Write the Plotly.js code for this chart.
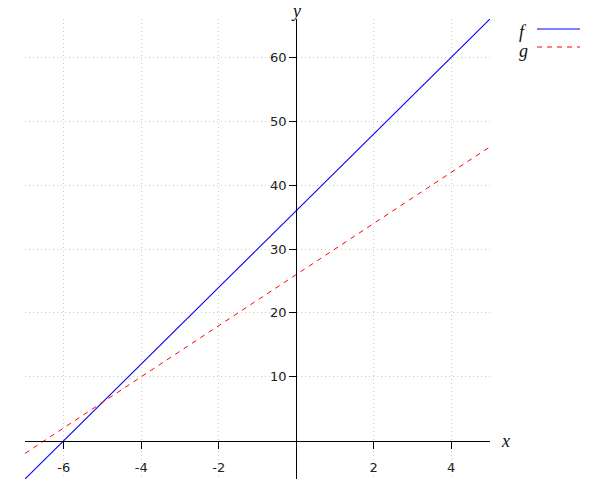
<!DOCTYPE html>
<html>
<head>
<meta charset="utf-8">
<script src="https://cdn.plot.ly/plotly-3.0.1.min.js"></script>
<style>html,body{margin:0;padding:0;background:#fff;}#chart{width:600px;height:500px;}</style>
</head>
<body>
<div id="chart"></div>
<script>
// Data
const xValues = [-7, 5];
const fValues = [-6, 66];
const gValues = [-2, 46];
const xTickVals = [-6, -4, -2, 2, 4];
const xTickText = ['-6', '-4', '-2', '2', '4'];
const yTickVals = [10, 20, 30, 40, 50, 60];
const yTickText = ['10', '20', '30', '40', '50', '60'];
const seriesNames = ['f', 'g'];
const seriesColors = ['#0000ff', '#ff0000'];

const xRange = [-7, 5];
const yRange = [-6, 66];

const traces = [
  {x: xValues, y: fValues, type: 'scatter', mode: 'lines', name: seriesNames[0],
   line: {color: seriesColors[0], width: 1.1}},
  {x: xValues, y: gValues, type: 'scatter', mode: 'lines', name: seriesNames[1],
   line: {color: seriesColors[1], width: 1, dash: '5px,5px'}}
];

const tickFont = {family: 'DejaVu Sans, sans-serif', size: 13, color: '#222'};
const labelFont = {family: 'Liberation Serif, serif', size: 18, color: '#111'};

const xZeroFrac = (0 - yRange[0]) / (yRange[1] - yRange[0]);
const yZeroFrac = (0 - xRange[0]) / (xRange[1] - xRange[0]);

const layout = {
  width: 600, height: 500,
  margin: {l: 25, r: 110, t: 19, b: 21, pad: 0},
  paper_bgcolor: '#fff', plot_bgcolor: '#fff',
  showlegend: false,
  xaxis: {
    range: xRange, tickvals: xTickVals, ticktext: xTickText,
    anchor: 'free', position: xZeroFrac,
    showline: true, linecolor: '#000', linewidth: 1,
    ticks: 'outside', ticklen: 7, tickcolor: '#000', tickwidth: 1,
    ticklabelstandoff: 8,
    tickfont: tickFont,
    showgrid: true, gridcolor: '#cccccc', gridwidth: 1, griddash: '1px,3px',
    zeroline: false, fixedrange: true
  },
  yaxis: {
    range: yRange, tickvals: yTickVals, ticktext: yTickText,
    anchor: 'free', position: yZeroFrac,
    showline: true, linecolor: '#000', linewidth: 1,
    ticks: 'outside', ticklen: 7, tickcolor: '#000', tickwidth: 1,
    tickfont: tickFont,
    showgrid: true, gridcolor: '#cccccc', gridwidth: 1, griddash: '1px,3px',
    zeroline: false, fixedrange: true
  },
  shapes: [
    {type: 'line', xref: 'paper', yref: 'paper', x0: 1.1011, x1: 1.1935, y0: 0.9783, y1: 0.9783,
     line: {color: seriesColors[0], width: 1.1}},
    {type: 'line', xref: 'paper', yref: 'paper', x0: 1.1011, x1: 1.1935, y0: 0.9391, y1: 0.9391,
     line: {color: seriesColors[1], width: 1, dash: '5px,5px'}}
  ],
  annotations: [
    {text: '<i>x</i>', xref: 'paper', yref: 'paper', x: 1.019, y: xZeroFrac,
     xanchor: 'left', yanchor: 'middle', showarrow: false, font: labelFont},
    {text: '<i>y</i>', xref: 'paper', yref: 'paper', x: yZeroFrac, y: 1.0413,
     xanchor: 'center', yanchor: 'top', showarrow: false, borderpad: 0, font: labelFont},
    {text: '<i>' + seriesNames[0] + '</i>', xref: 'paper', yref: 'paper', x: 1.071, y: 0.9717,
     xanchor: 'center', yanchor: 'middle', showarrow: false, font: labelFont},
    {text: '<i>' + seriesNames[1] + '</i>', xref: 'paper', yref: 'paper', x: 1.071, y: 0.9304,
     xanchor: 'center', yanchor: 'middle', showarrow: false, font: labelFont}
  ]
};

Plotly.newPlot('chart', traces, layout, {displayModeBar: false, staticPlot: true});
</script>
</body>
</html>
